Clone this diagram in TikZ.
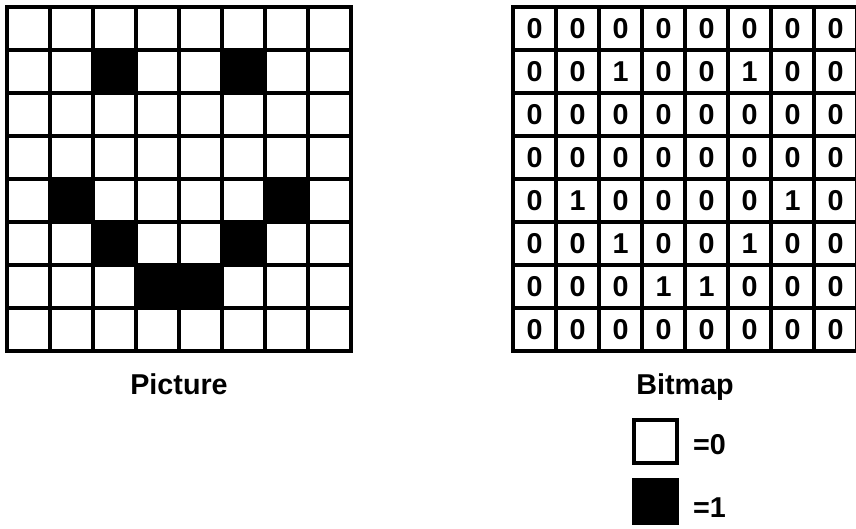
\documentclass[tikz,border=0pt]{standalone}
\usepackage{fontspec}
\setmainfont{Liberation Sans}
\begin{document}
\begin{tikzpicture}[
  every node/.style={font=\fontsize{19}{22}\selectfont\bfseries},
  gridline/.style={line width=2.8pt},
  bitline/.style={line width=2.2pt},
  on/.style={fill=black},
  keybox/.style={draw, line width=2.6pt, minimum size=1cm, inner sep=0pt}
]
\useasboundingbox (-0.163,-4.116) rectangle (19.744,8.163);
% picture
\foreach \r/\c in {2/3,2/6,5/2,5/7,6/3,6/6,7/4,7/5}
  \fill[on] (\c-1,8-\r) rectangle +(1,1);
\draw[gridline] (0,0) grid (8,8);
\draw[gridline] (0,0) rectangle (8,8);
\node[anchor=base] (pic) at (4,-1.0) {Picture};
% bitmap
\begin{scope}[xshift=11.77cm]
\foreach \row [count=\r] in {{0,0,0,0,0,0,0,0},{0,0,1,0,0,1,0,0},{0,0,0,0,0,0,0,0},{0,0,0,0,0,0,0,0},
  {0,1,0,0,0,0,1,0},{0,0,1,0,0,1,0,0},{0,0,0,1,1,0,0,0},{0,0,0,0,0,0,0,0}}{
  \foreach \v [count=\c] in \row
    \node (b-\r-\c) at (\c-0.5,8.5-\r) {\v};
}
\draw[bitline] (0,0) grid (8,8);
\draw[line width=2.8pt] (0,0) rectangle (8,8);
\node[anchor=base] (bmp) at (4,-1.0) {Bitmap};
\end{scope}
% key
\node[keybox] (k0) at (15.08,-2.10) {};
\node[keybox, on] (k1) at (15.08,-3.51) {};
\node[anchor=west, inner sep=0pt] (t0) at (15.95,-2.17) {=0};
\node[anchor=west, inner sep=0pt] (t1) at (15.95,-3.65) {=1};
\end{tikzpicture}
\end{document}
